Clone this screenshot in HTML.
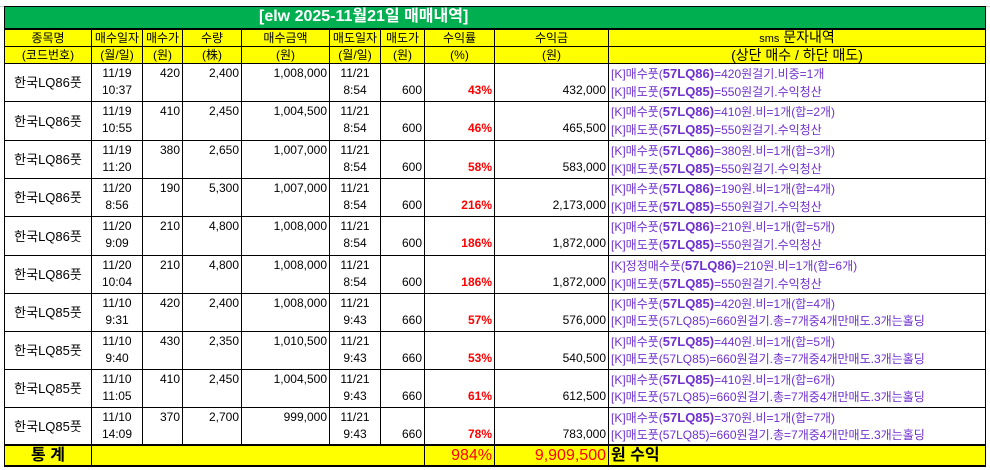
<!DOCTYPE html>
<html><head><meta charset="utf-8"><style>
body{margin:0;width:990px;height:470px;background:#fff;overflow:hidden;font-family:"Liberation Sans","Noto Sans CJK KR",sans-serif;font-size:12px;color:#000}
table{position:absolute;left:4px;top:6px;border-collapse:collapse;table-layout:fixed}
td{border:1px solid #000;padding:0 2px;white-space:nowrap;overflow:hidden;line-height:14px}
.t td{background:#00b050;color:#fff;font-weight:bold;font-size:16px;border-bottom:2px solid #000;line-height:18px}
.t{height:22px}
.h{height:17px}
.h td{background:#ffff00;text-align:center;font-size:12px;line-height:14px}
.g td{line-height:17px;vertical-align:top;padding-top:1px;padding-bottom:0}
.c{text-align:center}.r{text-align:right}
.n{text-align:center;vertical-align:middle!important;font-size:13px}
.red{color:#f00;font-weight:bold}
.s{color:#7030d0;font-size:12px}
.s b{font-size:13px}
.tot{height:21px}
.tot td{background:#ffff00;font-weight:bold;font-size:16px;border-top:2px solid #000;border-bottom:2px solid #000;line-height:17px}
.grid{position:absolute;left:0;top:0;width:990px;height:6px;border-bottom:1px solid #ccc}
</style></head><body>
<div class="grid"></div>
<table>
<colgroup><col style="width:87px"><col style="width:51px"><col style="width:40px"><col style="width:59px"><col style="width:88px"><col style="width:51px"><col style="width:44px"><col style="width:70px"><col style="width:114px"><col style="width:377px"></colgroup>
<tr class="t"><td colspan="10" style="padding-left:254px">[elw 2025-11월21일 매매내역]</td></tr>
<tr class="h"><td>종목명</td><td>매수일자</td><td>매수가</td><td>수량</td><td>매수금액</td><td>매도일자</td><td>매도가</td><td>수익률</td><td>수익금</td><td style="font-size:14px"><span style="font-size:11px">sms</span> 문자내역</td></tr>
<tr class="h"><td>(코드번호)</td><td>(월/일)</td><td>(원)</td><td>(株)</td><td>(원)</td><td>(월/일)</td><td>(원)</td><td>(%)</td><td>(원)</td><td style="font-size:14px">(상단 매수 / 하단 매도)</td></tr>

<tr class="g" style="height:38px"><td class="n">한국LQ86풋</td><td class="c">11/19<br>10:37</td><td class="r">420</td><td class="r">2,400</td><td class="r">1,008,000</td><td class="c">11/21<br>8:54</td><td class="r"><br>600</td><td class="r red"><br>43%</td><td class="r"><br>432,000</td><td class="s">[K]매수풋(<b>57LQ86)</b>=420원걸기.비중=1개<br>[K]매도풋(<b>57LQ85)</b>=550원걸기.수익청산</td></tr>
<tr class="g" style="height:39px"><td class="n">한국LQ86풋</td><td class="c">11/19<br>10:55</td><td class="r">410</td><td class="r">2,450</td><td class="r">1,004,500</td><td class="c">11/21<br>8:54</td><td class="r"><br>600</td><td class="r red"><br>46%</td><td class="r"><br>465,500</td><td class="s">[K]매수풋(<b>57LQ86)</b>=410원.비=1개(합=2개)<br>[K]매도풋(<b>57LQ85)</b>=550원걸기.수익청산</td></tr>
<tr class="g" style="height:38px"><td class="n">한국LQ86풋</td><td class="c">11/19<br>11:20</td><td class="r">380</td><td class="r">2,650</td><td class="r">1,007,000</td><td class="c">11/21<br>8:54</td><td class="r"><br>600</td><td class="r red"><br>58%</td><td class="r"><br>583,000</td><td class="s">[K]매수풋(<b>57LQ86)</b>=380원.비=1개(합=3개)<br>[K]매도풋(<b>57LQ85)</b>=550원걸기.수익청산</td></tr>
<tr class="g" style="height:38px"><td class="n">한국LQ86풋</td><td class="c">11/20<br>8:56</td><td class="r">190</td><td class="r">5,300</td><td class="r">1,007,000</td><td class="c">11/21<br>8:54</td><td class="r"><br>600</td><td class="r red"><br>216%</td><td class="r"><br>2,173,000</td><td class="s">[K]매수풋(<b>57LQ86)</b>=190원.비=1개(합=4개)<br>[K]매도풋(<b>57LQ85)</b>=550원걸기.수익청산</td></tr>
<tr class="g" style="height:39px"><td class="n">한국LQ86풋</td><td class="c">11/20<br>9:09</td><td class="r">210</td><td class="r">4,800</td><td class="r">1,008,000</td><td class="c">11/21<br>8:54</td><td class="r"><br>600</td><td class="r red"><br>186%</td><td class="r"><br>1,872,000</td><td class="s">[K]매수풋(<b>57LQ86)</b>=210원.비=1개(합=5개)<br>[K]매도풋(<b>57LQ85)</b>=550원걸기.수익청산</td></tr>
<tr class="g" style="height:38px"><td class="n">한국LQ86풋</td><td class="c">11/20<br>10:04</td><td class="r">210</td><td class="r">4,800</td><td class="r">1,008,000</td><td class="c">11/21<br>8:54</td><td class="r"><br>600</td><td class="r red"><br>186%</td><td class="r"><br>1,872,000</td><td class="s">[K]정정매수풋(<b>57LQ86)</b>=210원.비=1개(합=6개)<br>[K]매도풋(<b>57LQ85)</b>=550원걸기.수익청산</td></tr>
<tr class="g" style="height:38px"><td class="n">한국LQ85풋</td><td class="c">11/10<br>9:31</td><td class="r">420</td><td class="r">2,400</td><td class="r">1,008,000</td><td class="c">11/21<br>9:43</td><td class="r"><br>660</td><td class="r red"><br>57%</td><td class="r"><br>576,000</td><td class="s">[K]매수풋(<b>57LQ85)</b>=420원.비=1개(합=4개)<br>[K]매도풋(57LQ85)=660원걸기.총=7개중4개만매도.3개는홀딩</td></tr>
<tr class="g" style="height:38px"><td class="n">한국LQ85풋</td><td class="c">11/10<br>9:40</td><td class="r">430</td><td class="r">2,350</td><td class="r">1,010,500</td><td class="c">11/21<br>9:43</td><td class="r"><br>660</td><td class="r red"><br>53%</td><td class="r"><br>540,500</td><td class="s">[K]매수풋(<b>57LQ85)</b>=440원.비=1개(합=5개)<br>[K]매도풋(57LQ85)=660원걸기.총=7개중4개만매도.3개는홀딩</td></tr>
<tr class="g" style="height:38px"><td class="n">한국LQ85풋</td><td class="c">11/10<br>11:05</td><td class="r">410</td><td class="r">2,450</td><td class="r">1,004,500</td><td class="c">11/21<br>9:43</td><td class="r"><br>660</td><td class="r red"><br>61%</td><td class="r"><br>612,500</td><td class="s">[K]매수풋(<b>57LQ85)</b>=410원.비=1개(합=6개)<br>[K]매도풋(57LQ85)=660원걸기.총=7개중4개만매도.3개는홀딩</td></tr>
<tr class="g" style="height:38px"><td class="n">한국LQ85풋</td><td class="c">11/10<br>14:09</td><td class="r">370</td><td class="r">2,700</td><td class="r">999,000</td><td class="c">11/21<br>9:43</td><td class="r"><br>660</td><td class="r red"><br>78%</td><td class="r"><br>783,000</td><td class="s">[K]매수풋(<b>57LQ85)</b>=370원.비=1개(합=7개)<br>[K]매도풋(57LQ85)=660원걸기.총=7개중4개만매도.3개는홀딩</td></tr>
<tr class="tot"><td class="c">통 계</td><td colspan="6" style="border-left:none;border-right:1px solid #000"></td><td class="r" style="color:#f00;font-weight:normal">984%</td><td class="r" style="color:#f00;font-weight:normal">9,909,500</td><td>원 수익</td></tr>
</table>
</body></html>
